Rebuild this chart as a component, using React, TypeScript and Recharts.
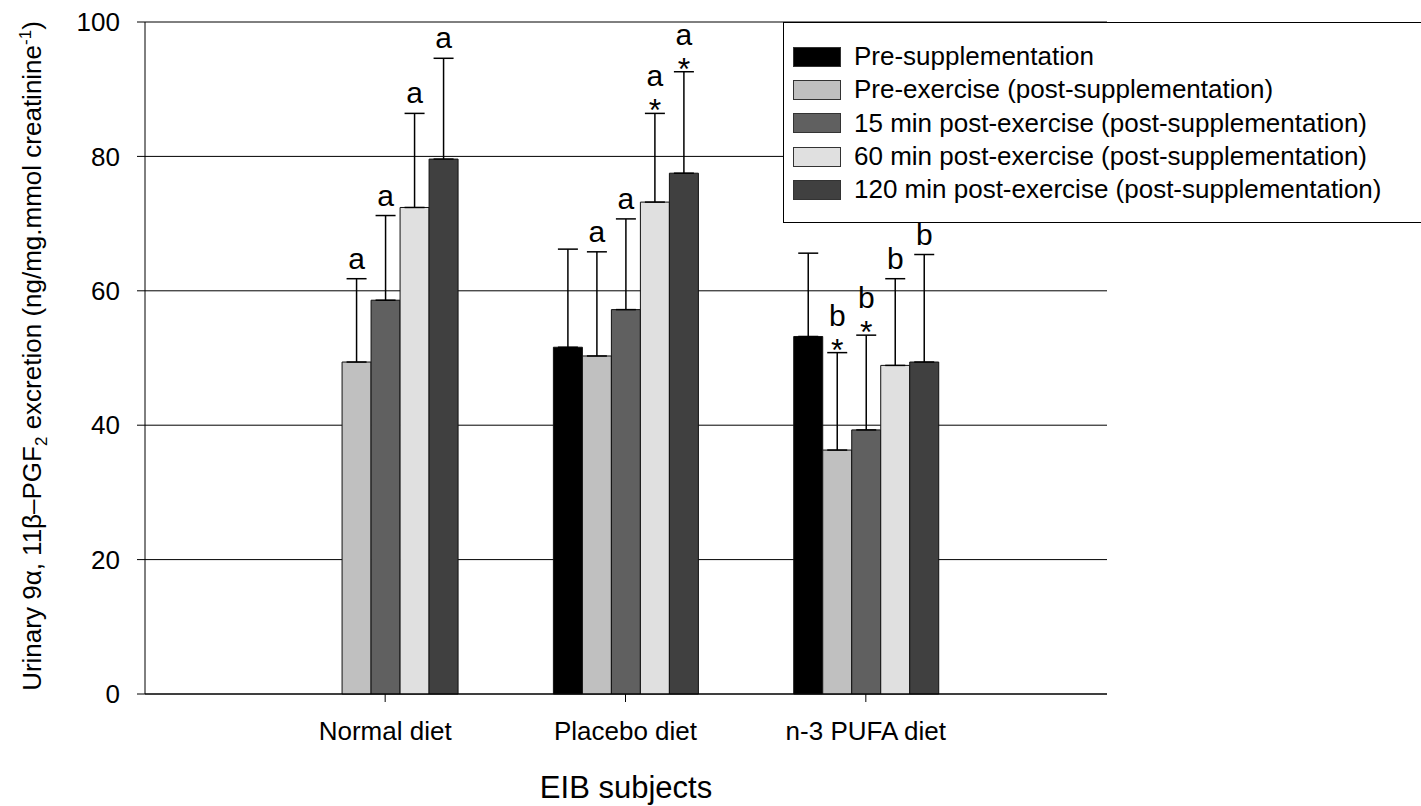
import React from 'react';
import { BarChart, Bar, XAxis, YAxis, CartesianGrid, ErrorBar, Legend, Label } from 'recharts';

const FONT = 'Arial, "Liberation Sans", Helvetica, sans-serif';

const diets = ['Normal diet', 'Placebo diet', 'n-3 PUFA diet'];

const seriesNames = [
  'Pre-supplementation',
  'Pre-exercise (post-supplementation)',
  '15 min post-exercise (post-supplementation)',
  '60 min post-exercise (post-supplementation)',
  '120 min post-exercise (post-supplementation)',
];
const seriesColors = ['#000000', '#c0c0c0', '#606060', '#e0e0e0', '#404040'];

// means per diet, one list per time point
const preSupp = [null, 51.6, 53.2];
const preEx = [49.4, 50.3, 36.3];
const post15 = [58.6, 57.2, 39.3];
const post60 = [72.4, 73.2, 48.9];
const post120 = [79.6, 77.5, 49.4];

// upper SD
const preSuppErr = [null, 14.6, 12.4];
const preExErr = [12.4, 15.5, 14.5];
const post15Err = [12.6, 13.5, 14.1];
const post60Err = [14.0, 13.2, 12.9];
const post120Err = [15.0, 15.1, 16.0];

// significance letters / asterisks
const preSuppSig = ['', '', 'a'];
const preExSig = ['a', 'a', 'b*'];
const post15Sig = ['a', 'a', 'b*'];
const post60Sig = ['a', 'a*', 'b'];
const post120Sig = ['a', 'a*', 'b'];

const keys = ['s0', 's1', 's2', 's3', 's4'];
const values = [preSupp, preEx, post15, post60, post120];
const errs = [preSuppErr, preExErr, post15Err, post60Err, post120Err];
const sigs = [preSuppSig, preExSig, post15Sig, post60Sig, post120Sig];

const data = diets.map((name, i) => {
  const row: Record<string, any> = { name };
  keys.forEach((k, s) => {
    row[k] = values[s][i];
    row[k + 'e'] = errs[s][i] == null ? null : [0, errs[s][i]];
  });
  return row;
});

function sigLabel(s: number) {
  return (props: any) => {
    const { x, y, width, height, value, index } = props;
    const sig = sigs[s][index];
    if (value == null || !sig) return null;
    const err = errs[s][index] as number;
    const capY = y - (err * height) / value;
    const cx = x + width / 2;
    const letter = sig.replace('*', '');
    const star = sig.includes('*');
    return (
      <g>
        <text x={cx} y={star ? capY - 27 : capY - 10} textAnchor="middle" fontSize={30} fontFamily={FONT} fill="#000">
          {letter}
        </text>
        {star && (
          <text x={cx} y={capY + 8} textAnchor="middle" fontSize={32} fontFamily={FONT} fill="#000">
            *
          </text>
        )}
      </g>
    );
  };
}

function YTitle() {
  return (
    <text transform="rotate(-90, 41, 356)" x={41} y={356} textAnchor="middle" fontSize={26} fontFamily={FONT} fill="#000">
      Urinary 9α, 11β–PGF
      <tspan fontSize={17} dy={6}>2</tspan>
      <tspan dy={-6}> excretion (ng/mg.mmol creatinine</tspan>
      <tspan fontSize={17} dy={-10}>-1</tspan>
      <tspan dy={10}>)</tspan>
    </text>
  );
}

function LegendBox() {
  return (
    <div
      style={{
        border: '1.5px solid #000',
        background: '#fff',
        width: 640,
        height: 201,
        boxSizing: 'border-box',
        paddingTop: 17,
        paddingLeft: 9,
        fontFamily: FONT,
        fontSize: 26,
        color: '#000',
      }}
    >
      {seriesNames.map((n, i) => (
        <div key={n} style={{ display: 'flex', alignItems: 'center', height: 33.3 }}>
          <div
            style={{
              width: 48,
              height: 20,
              background: seriesColors[i],
              border: '1px solid #333',
              boxSizing: 'border-box',
              marginRight: 13,
            }}
          />
          <span style={{ lineHeight: '33px', whiteSpace: 'nowrap' }}>{n}</span>
        </div>
      ))}
    </div>
  );
}

export default function App() {
  return (
    <div style={{ position: 'absolute', left: 0, top: 0, width: 1421, height: 806, background: '#fff' }}>
      <BarChart
        width={1421}
        height={806}
        data={data}
        margin={{ top: 22, right: 314, bottom: 72, left: 85 }}
        barCategoryGap="20%"
        barGap={0}
      >
        <CartesianGrid vertical={false} stroke="#000" strokeWidth={1} />
        <XAxis
          dataKey="name"
          height={40}
          padding={{ left: 120, right: 121 }}
          tickSize={8}
          tickMargin={20}
          stroke="#000"
          tick={{ fill: '#000', fontSize: 26, fontFamily: FONT }}
          label={{ value: 'EIB subjects', position: 'bottom', offset: 42, fontSize: 31, fontFamily: FONT, fill: '#000' }}
        />
        <YAxis
          width={60}
          domain={[0, 100]}
          ticks={[0, 20, 40, 60, 80, 100]}
          tickSize={8}
          tickMargin={17}
          stroke="#000"
          tick={{ fill: '#000', fontSize: 26, fontFamily: FONT }}
        >
          <Label content={YTitle} />
        </YAxis>
        {keys.map((k, s) => (
          <Bar
            key={k}
            dataKey={k}
            name={seriesNames[s]}
            fill={seriesColors[s]}
            stroke="#111"
            strokeWidth={1}
            isAnimationActive={false}
            label={sigLabel(s)}
          >
            <ErrorBar dataKey={k + 'e'} width={10} stroke="#000" strokeWidth={1.5} direction="y" />
          </Bar>
        ))}
        <Legend
          layout="vertical"
          align="center"
          verticalAlign="middle"
          content={LegendBox}
          wrapperStyle={{ left: 783, top: 22, width: 640, height: 201 }}
        />
      </BarChart>
    </div>
  );
}
